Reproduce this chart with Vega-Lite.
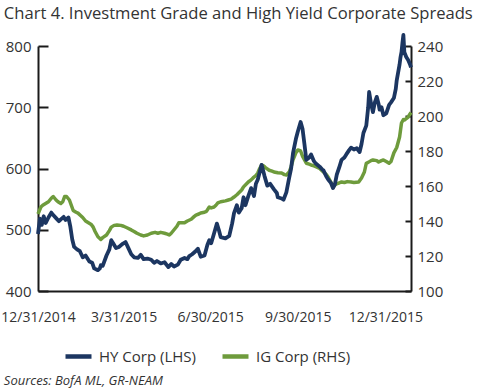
{
  "$schema": "https://vega.github.io/schema/vega-lite/v6.json",
  "padding": {"left": 0, "top": 6, "right": 0, "bottom": 0},
  "background": "white",
  "config": {"view": {"stroke": null}, "font": "Open Sans", "concat": {"spacing": 0}},
  "title": {"text": "Sources: BofA ML, GR-NEAM", "orient": "bottom", "anchor": "start", "dx": 3, "fontSize": 13, "fontStyle": "italic", "fontWeight": "normal", "color": "#333333", "offset": 9, "font": "Open Sans"},
  "datasets": {
    "hy": [
      {"date": "2014-12-31", "hy": 493}, {"date": "2015-01-02", "hy": 518}, {"date": "2015-01-04", "hy": 508},
      {"date": "2015-01-06", "hy": 522}, {"date": "2015-01-08", "hy": 511}, {"date": "2015-01-11", "hy": 520},
      {"date": "2015-01-14", "hy": 528}, {"date": "2015-01-16", "hy": 524}, {"date": "2015-01-19", "hy": 519},
      {"date": "2015-01-22", "hy": 514}, {"date": "2015-01-24", "hy": 517}, {"date": "2015-01-27", "hy": 521},
      {"date": "2015-01-29", "hy": 516}, {"date": "2015-02-01", "hy": 520}, {"date": "2015-02-03", "hy": 505},
      {"date": "2015-02-05", "hy": 484}, {"date": "2015-02-07", "hy": 472}, {"date": "2015-02-10", "hy": 468},
      {"date": "2015-02-13", "hy": 465}, {"date": "2015-02-16", "hy": 455}, {"date": "2015-02-19", "hy": 458},
      {"date": "2015-02-23", "hy": 448}, {"date": "2015-02-26", "hy": 446}, {"date": "2015-02-28", "hy": 437},
      {"date": "2015-03-04", "hy": 434}, {"date": "2015-03-06", "hy": 437}, {"date": "2015-03-07", "hy": 442},
      {"date": "2015-03-09", "hy": 441}, {"date": "2015-03-13", "hy": 458}, {"date": "2015-03-16", "hy": 468},
      {"date": "2015-03-18", "hy": 483}, {"date": "2015-03-20", "hy": 478}, {"date": "2015-03-23", "hy": 470},
      {"date": "2015-03-26", "hy": 472}, {"date": "2015-03-30", "hy": 477}, {"date": "2015-04-02", "hy": 480},
      {"date": "2015-04-05", "hy": 470}, {"date": "2015-04-08", "hy": 460}, {"date": "2015-04-11", "hy": 455},
      {"date": "2015-04-15", "hy": 454}, {"date": "2015-04-18", "hy": 459}, {"date": "2015-04-21", "hy": 452},
      {"date": "2015-04-25", "hy": 453}, {"date": "2015-04-29", "hy": 451}, {"date": "2015-05-02", "hy": 446},
      {"date": "2015-05-05", "hy": 449}, {"date": "2015-05-09", "hy": 445}, {"date": "2015-05-13", "hy": 447},
      {"date": "2015-05-17", "hy": 439}, {"date": "2015-05-20", "hy": 444}, {"date": "2015-05-23", "hy": 440},
      {"date": "2015-05-27", "hy": 443}, {"date": "2015-05-30", "hy": 451}, {"date": "2015-06-03", "hy": 454},
      {"date": "2015-06-06", "hy": 452}, {"date": "2015-06-08", "hy": 457}, {"date": "2015-06-11", "hy": 460},
      {"date": "2015-06-14", "hy": 464}, {"date": "2015-06-17", "hy": 469}, {"date": "2015-06-20", "hy": 456},
      {"date": "2015-06-24", "hy": 458}, {"date": "2015-06-27", "hy": 475}, {"date": "2015-06-29", "hy": 483},
      {"date": "2015-07-01", "hy": 478}, {"date": "2015-07-04", "hy": 494}, {"date": "2015-07-07", "hy": 510},
      {"date": "2015-07-09", "hy": 500}, {"date": "2015-07-11", "hy": 488}, {"date": "2015-07-16", "hy": 486},
      {"date": "2015-07-20", "hy": 490}, {"date": "2015-07-23", "hy": 510}, {"date": "2015-07-25", "hy": 527},
      {"date": "2015-07-28", "hy": 540}, {"date": "2015-07-30", "hy": 528}, {"date": "2015-08-02", "hy": 535},
      {"date": "2015-08-04", "hy": 553}, {"date": "2015-08-06", "hy": 540}, {"date": "2015-08-09", "hy": 555},
      {"date": "2015-08-12", "hy": 568}, {"date": "2015-08-15", "hy": 555}, {"date": "2015-08-17", "hy": 575},
      {"date": "2015-08-19", "hy": 582}, {"date": "2015-08-23", "hy": 606}, {"date": "2015-08-26", "hy": 588},
      {"date": "2015-08-29", "hy": 572}, {"date": "2015-09-01", "hy": 575}, {"date": "2015-09-05", "hy": 566},
      {"date": "2015-09-08", "hy": 560}, {"date": "2015-09-09", "hy": 553}, {"date": "2015-09-13", "hy": 551},
      {"date": "2015-09-15", "hy": 549}, {"date": "2015-09-18", "hy": 561}, {"date": "2015-09-21", "hy": 585},
      {"date": "2015-09-23", "hy": 600}, {"date": "2015-09-25", "hy": 625}, {"date": "2015-09-28", "hy": 648},
      {"date": "2015-09-30", "hy": 660}, {"date": "2015-10-03", "hy": 676}, {"date": "2015-10-05", "hy": 665},
      {"date": "2015-10-07", "hy": 640}, {"date": "2015-10-09", "hy": 614}, {"date": "2015-10-12", "hy": 618},
      {"date": "2015-10-14", "hy": 623}, {"date": "2015-10-17", "hy": 612}, {"date": "2015-10-19", "hy": 608},
      {"date": "2015-10-23", "hy": 603}, {"date": "2015-10-26", "hy": 598}, {"date": "2015-10-27", "hy": 597},
      {"date": "2015-10-30", "hy": 587}, {"date": "2015-11-01", "hy": 582}, {"date": "2015-11-04", "hy": 576},
      {"date": "2015-11-06", "hy": 568}, {"date": "2015-11-08", "hy": 574}, {"date": "2015-11-10", "hy": 590},
      {"date": "2015-11-13", "hy": 604}, {"date": "2015-11-15", "hy": 614}, {"date": "2015-11-18", "hy": 618},
      {"date": "2015-11-20", "hy": 623}, {"date": "2015-11-23", "hy": 630}, {"date": "2015-11-25", "hy": 634},
      {"date": "2015-11-28", "hy": 631}, {"date": "2015-12-01", "hy": 633}, {"date": "2015-12-04", "hy": 627},
      {"date": "2015-12-06", "hy": 640}, {"date": "2015-12-08", "hy": 658}, {"date": "2015-12-11", "hy": 670},
      {"date": "2015-12-13", "hy": 700}, {"date": "2015-12-14", "hy": 725}, {"date": "2015-12-16", "hy": 706},
      {"date": "2015-12-18", "hy": 692}, {"date": "2015-12-20", "hy": 708}, {"date": "2015-12-22", "hy": 717},
      {"date": "2015-12-24", "hy": 705}, {"date": "2015-12-25", "hy": 696}, {"date": "2015-12-27", "hy": 700},
      {"date": "2015-12-29", "hy": 687}, {"date": "2016-01-01", "hy": 690}, {"date": "2016-01-04", "hy": 704},
      {"date": "2016-01-06", "hy": 708}, {"date": "2016-01-09", "hy": 715}, {"date": "2016-01-11", "hy": 730},
      {"date": "2016-01-12", "hy": 744}, {"date": "2016-01-15", "hy": 770}, {"date": "2016-01-16", "hy": 782},
      {"date": "2016-01-17", "hy": 790}, {"date": "2016-01-18", "hy": 805}, {"date": "2016-01-19", "hy": 818},
      {"date": "2016-01-20", "hy": 790}, {"date": "2016-01-22", "hy": 782}, {"date": "2016-01-24", "hy": 777},
      {"date": "2016-01-26", "hy": 770}, {"date": "2016-01-27", "hy": 765}
    ],
    "ig": [
      {"date": "2014-12-31", "ig": 144}, {"date": "2015-01-03", "ig": 148}, {"date": "2015-01-05", "ig": 149},
      {"date": "2015-01-08", "ig": 150}, {"date": "2015-01-11", "ig": 151}, {"date": "2015-01-14", "ig": 153},
      {"date": "2015-01-16", "ig": 154}, {"date": "2015-01-19", "ig": 152}, {"date": "2015-01-21", "ig": 151},
      {"date": "2015-01-24", "ig": 150}, {"date": "2015-01-26", "ig": 151}, {"date": "2015-01-28", "ig": 154},
      {"date": "2015-01-30", "ig": 154}, {"date": "2015-02-02", "ig": 152}, {"date": "2015-02-04", "ig": 149},
      {"date": "2015-02-06", "ig": 146}, {"date": "2015-02-09", "ig": 145}, {"date": "2015-02-11", "ig": 144.5},
      {"date": "2015-02-14", "ig": 143}, {"date": "2015-02-16", "ig": 142}, {"date": "2015-02-19", "ig": 140},
      {"date": "2015-02-22", "ig": 139}, {"date": "2015-02-25", "ig": 138}, {"date": "2015-02-27", "ig": 136.5},
      {"date": "2015-03-01", "ig": 134}, {"date": "2015-03-04", "ig": 131}, {"date": "2015-03-06", "ig": 130},
      {"date": "2015-03-07", "ig": 129.5}, {"date": "2015-03-09", "ig": 130.5}, {"date": "2015-03-13", "ig": 132},
      {"date": "2015-03-16", "ig": 134.5}, {"date": "2015-03-18", "ig": 136.5}, {"date": "2015-03-21", "ig": 137.5},
      {"date": "2015-03-24", "ig": 137.7}, {"date": "2015-03-28", "ig": 137.5}, {"date": "2015-03-31", "ig": 137},
      {"date": "2015-04-04", "ig": 136}, {"date": "2015-04-08", "ig": 134.9}, {"date": "2015-04-11", "ig": 134},
      {"date": "2015-04-14", "ig": 133}, {"date": "2015-04-18", "ig": 132}, {"date": "2015-04-21", "ig": 131.5},
      {"date": "2015-04-25", "ig": 132}, {"date": "2015-04-29", "ig": 133}, {"date": "2015-05-03", "ig": 133.5},
      {"date": "2015-05-06", "ig": 133}, {"date": "2015-05-09", "ig": 133.5}, {"date": "2015-05-13", "ig": 133},
      {"date": "2015-05-16", "ig": 132.5}, {"date": "2015-05-18", "ig": 132}, {"date": "2015-05-20", "ig": 133},
      {"date": "2015-05-23", "ig": 135}, {"date": "2015-05-26", "ig": 137}, {"date": "2015-05-28", "ig": 139},
      {"date": "2015-06-01", "ig": 139}, {"date": "2015-06-03", "ig": 139}, {"date": "2015-06-06", "ig": 140},
      {"date": "2015-06-10", "ig": 141}, {"date": "2015-06-13", "ig": 142.5}, {"date": "2015-06-15", "ig": 143.4},
      {"date": "2015-06-18", "ig": 144}, {"date": "2015-06-20", "ig": 144.6}, {"date": "2015-06-24", "ig": 145},
      {"date": "2015-06-26", "ig": 145.5}, {"date": "2015-06-29", "ig": 148}, {"date": "2015-07-01", "ig": 147.5},
      {"date": "2015-07-04", "ig": 148}, {"date": "2015-07-06", "ig": 149}, {"date": "2015-07-08", "ig": 150.3},
      {"date": "2015-07-11", "ig": 151}, {"date": "2015-07-16", "ig": 151.5}, {"date": "2015-07-19", "ig": 152},
      {"date": "2015-07-22", "ig": 152.5}, {"date": "2015-07-25", "ig": 153.7}, {"date": "2015-07-28", "ig": 155},
      {"date": "2015-08-02", "ig": 157.7}, {"date": "2015-08-04", "ig": 159.5}, {"date": "2015-08-09", "ig": 162.3},
      {"date": "2015-08-12", "ig": 163.5}, {"date": "2015-08-14", "ig": 164.6}, {"date": "2015-08-17", "ig": 166},
      {"date": "2015-08-19", "ig": 167.4}, {"date": "2015-08-21", "ig": 170}, {"date": "2015-08-23", "ig": 172},
      {"date": "2015-08-25", "ig": 171.5}, {"date": "2015-08-27", "ig": 170.5}, {"date": "2015-08-31", "ig": 169},
      {"date": "2015-09-03", "ig": 168.5}, {"date": "2015-09-05", "ig": 168}, {"date": "2015-09-09", "ig": 167.6},
      {"date": "2015-09-13", "ig": 167.4}, {"date": "2015-09-16", "ig": 166.5}, {"date": "2015-09-18", "ig": 166.3},
      {"date": "2015-09-21", "ig": 168}, {"date": "2015-09-23", "ig": 171}, {"date": "2015-09-25", "ig": 175},
      {"date": "2015-09-28", "ig": 179}, {"date": "2015-09-30", "ig": 180.6}, {"date": "2015-10-03", "ig": 180},
      {"date": "2015-10-05", "ig": 177}, {"date": "2015-10-07", "ig": 175}, {"date": "2015-10-09", "ig": 173},
      {"date": "2015-10-12", "ig": 172.5}, {"date": "2015-10-14", "ig": 172}, {"date": "2015-10-17", "ig": 171.5},
      {"date": "2015-10-19", "ig": 171}, {"date": "2015-10-23", "ig": 170}, {"date": "2015-10-27", "ig": 168},
      {"date": "2015-10-30", "ig": 166.5}, {"date": "2015-11-01", "ig": 165}, {"date": "2015-11-04", "ig": 162},
      {"date": "2015-11-06", "ig": 159.4}, {"date": "2015-11-09", "ig": 161}, {"date": "2015-11-12", "ig": 161.7},
      {"date": "2015-11-15", "ig": 162.3}, {"date": "2015-11-18", "ig": 162}, {"date": "2015-11-21", "ig": 162.5},
      {"date": "2015-11-25", "ig": 162.3}, {"date": "2015-11-28", "ig": 162}, {"date": "2015-12-03", "ig": 162.3},
      {"date": "2015-12-06", "ig": 164.6}, {"date": "2015-12-09", "ig": 168}, {"date": "2015-12-11", "ig": 173},
      {"date": "2015-12-13", "ig": 173.5}, {"date": "2015-12-16", "ig": 174.5}, {"date": "2015-12-18", "ig": 174.9},
      {"date": "2015-12-22", "ig": 174.5}, {"date": "2015-12-24", "ig": 173.7}, {"date": "2015-12-27", "ig": 174.5},
      {"date": "2015-12-29", "ig": 174.9}, {"date": "2016-01-01", "ig": 174}, {"date": "2016-01-04", "ig": 173},
      {"date": "2016-01-06", "ig": 174}, {"date": "2016-01-09", "ig": 178.9}, {"date": "2016-01-12", "ig": 182},
      {"date": "2016-01-15", "ig": 188}, {"date": "2016-01-16", "ig": 192}, {"date": "2016-01-17", "ig": 196},
      {"date": "2016-01-19", "ig": 198}, {"date": "2016-01-20", "ig": 197.7}, {"date": "2016-01-22", "ig": 198.5},
      {"date": "2016-01-24", "ig": 199.4}, {"date": "2016-01-27", "ig": 202}
    ]
  },
  "vconcat": [
    {
      "title": {"text": "Chart 4. Investment Grade and High Yield Corporate Spreads", "anchor": "start", "dx": 3, "fontSize": 16.6, "fontWeight": "normal", "color": "#333333", "offset": 10, "font": "Open Sans"},
      "width": 373,
      "height": 245,
      "layer": [
        {
          "data": {"name": "ig", "format": {"parse": {"date": "date:'%Y-%m-%d'"}}},
          "mark": {"type": "line", "strokeWidth": 3.5, "strokeJoin": "round"},
          "encoding": {
            "x": {"field": "date", "type": "temporal",
              "scale": {"domain": [{"year": 2014, "month": 12, "date": 31}, {"year": 2016, "month": 1, "date": 27}]},
              "axis": {"values": [{"year": 2014, "month": 12, "date": 31}, {"year": 2015, "month": 3, "date": 31}, {"year": 2015, "month": 6, "date": 30}, {"year": 2015, "month": 9, "date": 30}, {"year": 2015, "month": 12, "date": 31}],
                "labelExpr": "timeFormat(datum.value, '%-m/%-d/%Y')", "ticks": false, "grid": false,
                "domainColor": "#1a1a1a", "domainWidth": 2, "labelFontSize": 14, "labelColor": "#333333",
                "labelPadding": 19, "labelOverlap": false, "labelFlush": false, "labelBound": false, "title": null, "labelFont": "Open Sans"}},
            "y": {"field": "ig", "type": "quantitative",
              "scale": {"domain": [100, 240], "nice": false, "zero": false},
              "axis": {"orient": "right", "values": [100, 120, 140, 160, 180, 200, 220, 240], "tickSize": -6, "tickWidth": 2, "tickColor": "#1a1a1a",
                "domainColor": "#1a1a1a", "domainWidth": 2, "grid": false, "labelFontSize": 15, "labelColor": "#333333", "labelPadding": 12, "title": null, "labelFont": "Open Sans"}},
            "color": {"datum": "IG Corp (RHS)", "type": "nominal",
              "scale": {"domain": ["HY Corp (LHS)", "IG Corp (RHS)"], "range": ["#1c3661", "#6e9b3c"]},
              "legend": {"orient": "none", "legendX": 25, "legendY": 295, "direction": "horizontal", "title": null,
                "symbolType": "stroke", "symbolStrokeWidth": 4.5, "symbolSize": 676, "labelFontSize": 15, "labelColor": "#333333",
                "columnPadding": 17, "gridAlign": "none", "labelOffset": 5, "labelFont": "Open Sans"}}
          }
        },
        {
          "data": {"name": "hy", "format": {"parse": {"date": "date:'%Y-%m-%d'"}}},
          "mark": {"type": "line", "strokeWidth": 3.8, "strokeJoin": "round"},
          "encoding": {
            "x": {"field": "date", "type": "temporal"},
            "y": {"field": "hy", "type": "quantitative",
              "scale": {"domain": [400, 800], "nice": false, "zero": false},
              "axis": {"orient": "left", "values": [400, 500, 600, 700, 800], "tickSize": -10, "tickWidth": 2, "tickColor": "#1a1a1a",
                "domainColor": "#1a1a1a", "domainWidth": 2, "grid": false, "labelFontSize": 15, "labelColor": "#333333", "labelPadding": 17, "title": null, "labelFont": "Open Sans"}},
            "color": {"datum": "HY Corp (LHS)", "type": "nominal"}
          }
        }
      ],
      "resolve": {"scale": {"y": "independent"}}
    }
  ]
}
